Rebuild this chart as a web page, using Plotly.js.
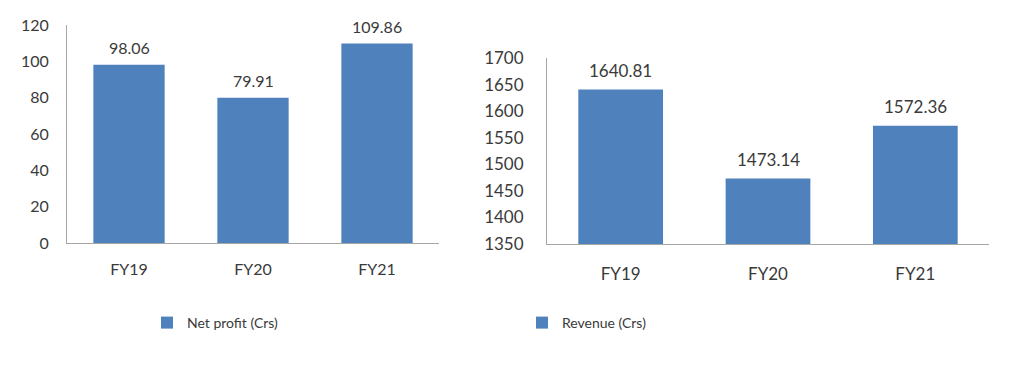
<!DOCTYPE html>
<html>
<head>
<meta charset="utf-8">
<script src="https://cdn.plot.ly/plotly-3.0.1.min.js"></script>
<style>
html,body{margin:0;padding:0;background:#fff;}
#chart{width:1017px;height:386px;}
</style>
</head>
<body>
<div id="chart"></div>
<script>
var categories = ["FY19", "FY20", "FY21"];
var netProfit = [98.06, 79.91, 109.86];
var revenue = [1640.81, 1473.14, 1572.36];
var netProfitLabels = ["98.06", "79.91", "109.86"];
var revenueLabels = ["1640.81", "1473.14", "1572.36"];
var seriesNames = ["Net profit (Crs)", "Revenue (Crs)"];

var W = 1017, H = 386;
var barColor = "#4F81BD";
var textColor = "#3A3A3A";
var lineColor = "#A6A6A6";
var fontFam = "Lato, 'Open Sans', sans-serif";

var traces = [
  {type: "bar", x: categories, y: netProfit, name: seriesNames[0], marker: {color: barColor},
   width: 0.575, xaxis: "x", yaxis: "y", legend: "legend", hoverinfo: "x+y"},
  {type: "bar", x: categories, y: revenue, name: seriesNames[1], marker: {color: barColor},
   width: 0.575, xaxis: "x2", yaxis: "y2", legend: "legend2", hoverinfo: "x+y"}
];

var annotations = [];
categories.forEach(function (c, i) {
  annotations.push({x: c, y: netProfit[i], xref: "x", yref: "y", text: netProfitLabels[i],
    showarrow: false, yanchor: "middle", yshift: 17, font: {size: 16, color: textColor, family: fontFam}});
  annotations.push({x: c, y: revenue[i], xref: "x2", yref: "y2", text: revenueLabels[i],
    showarrow: false, yanchor: "middle", yshift: 19, font: {size: 17, color: textColor, family: fontFam}});
});

function xa(domain, anchor, size, standoff) {
  return {domain: domain, anchor: anchor, showline: true, linecolor: lineColor, linewidth: 1,
    ticks: "", showgrid: false, zeroline: false, fixedrange: true,
    tickfont: {size: size, color: textColor, family: fontFam}, ticklabelstandoff: standoff};
}
function ya(domain, anchor, range, dtick, size, standoff) {
  return {domain: domain, anchor: anchor, range: range, dtick: dtick, tick0: range[0],
    showline: true, linecolor: lineColor, linewidth: 1, ticks: "", showgrid: false,
    zeroline: false, fixedrange: true,
    tickfont: {size: size, color: textColor, family: fontFam}, ticklabelstandoff: standoff};
}

var layout = {
  width: W, height: H,
  margin: {l: 0, r: 0, t: 0, b: 0},
  paper_bgcolor: "#fff", plot_bgcolor: "#fff",
  font: {family: fontFam, color: textColor},
  showlegend: true,
  xaxis: xa([67 / W, 439 / W], "y", 16, 12),
  yaxis: ya([1 - 243 / H, 1 - 25 / H], "x", [0, 120], 20, 16, 14),
  xaxis2: xa([547 / W, 989 / W], "y2", 17, 15),
  yaxis2: ya([1 - 244 / H, 1 - 58 / H], "x2", [1350, 1700], 50, 17, 19),
  legend: {x: 147 / W, y: 1 - 323 / H, xanchor: "left", yanchor: "middle",
    font: {size: 14, color: textColor, family: fontFam}, bgcolor: "rgba(0,0,0,0)"},
  legend2: {x: 522 / W, y: 1 - 323 / H, xanchor: "left", yanchor: "middle",
    font: {size: 14, color: textColor, family: fontFam}, bgcolor: "rgba(0,0,0,0)"},
  annotations: annotations
};

Plotly.newPlot("chart", traces, layout, {displayModeBar: false, staticPlot: true});
</script>
</body>
</html>
